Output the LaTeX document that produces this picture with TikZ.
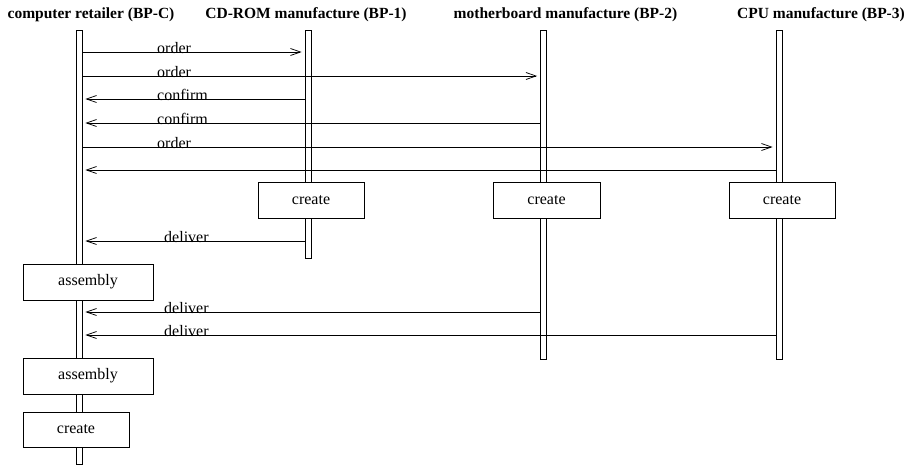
\documentclass[tikz,border=0pt]{standalone}
\usepackage{fontspec}
\setmainfont{Liberation Serif}
\usetikzlibrary{arrows.meta}
\begin{document}
\begin{tikzpicture}[x=1pt,y=-1pt,
  lane/.style={draw, fill=white, line width=0.8pt, minimum width=6pt, inner sep=0pt, anchor=north},
  task/.style={draw, fill=white, line width=0.8pt, inner sep=0pt, minimum height=36pt, font=\fontsize{16}{18}\selectfont},
  head/.style={font=\fontsize{15.5}{18}\selectfont\bfseries, inner sep=0pt, anchor=base},
  msg/.style={line width=0.75pt, -{Straight Barb[length=10pt,width=7pt]}, shorten >=3pt},
  lbl/.style={font=\fontsize{16}{18}\selectfont, inner sep=0pt, anchor=base west}]
\useasboundingbox (0,0) rectangle (909,466);

% participants
\node[head] (hC) at (91,18) {computer retailer (BP-C)};
\node[head] (h1) at (306,18) {CD-ROM manufacture (BP-1)};
\node[head] (h2) at (565.5,18) {motherboard manufacture (BP-2)};
\node[head] (h3) at (821,18) {CPU manufacture (BP-3)};

% lifeline segments
\node[lane, minimum height=234pt] (c1) at (79,30) {};
\node[lane, minimum height=58pt]  (c2) at (79,300) {};
\node[lane, minimum height=18pt]  (c3) at (79,394) {};
\node[lane, minimum height=17pt]  (c4) at (79,447) {};
\node[lane, minimum height=152pt] (a1) at (308,30) {};
\node[lane, minimum height=40pt]  (a2) at (308,218) {};
\node[lane, minimum height=152pt] (b1) at (543.5,30) {};
\node[lane, minimum height=141pt] (b2) at (543.5,218) {};
\node[lane, minimum height=152pt] (d1) at (779,30) {};
\node[lane, minimum height=141pt] (d2) at (779,218) {};

% activities
\node[task, minimum width=106pt] (cr1) at (311,200) {create};
\node[task, minimum width=107pt] (cr2) at (546.5,200) {create};
\node[task, minimum width=106pt] (cr3) at (782,200) {create};
\node[task, minimum width=130pt] (as1) at (88,282) {assembly};
\node[task, minimum width=130pt] (as2) at (88,376) {assembly};
\node[task, minimum width=106pt, minimum height=35pt] (crC) at (76,429.5) {create};

% messages
\draw[msg] (c1.east |- 0,52) -- (a1.west |- 0,52);
\node[lbl] (m1) at (157,53) {order};
\draw[msg] (c1.east |- 0,76) -- (b1.west |- 0,76);
\node[lbl] (m2) at (157,77) {order};
\draw[msg] (a1.west |- 0,99) -- (c1.east |- 0,99);
\node[lbl] (m3) at (157,100) {confirm};
\draw[msg] (b1.west |- 0,123) -- (c1.east |- 0,123);
\node[lbl] (m4) at (157,124) {confirm};
\draw[msg] (c1.east |- 0,147) -- (d1.west |- 0,147);
\node[lbl] (m5) at (157,148) {order};
\draw[msg] (d1.west |- 0,170) -- (c1.east |- 0,170);
\draw[msg] (a2.west |- 0,241) -- (c1.east |- 0,241);
\node[lbl] (m6) at (164,242) {deliver};
\draw[msg] (b2.west |- 0,312) -- (c2.east |- 0,312);
\node[lbl] (m7) at (164,313) {deliver};
\draw[msg] (d2.west |- 0,335) -- (c2.east |- 0,335);
\node[lbl] (m8) at (164,336) {deliver};
\end{tikzpicture}
\end{document}
